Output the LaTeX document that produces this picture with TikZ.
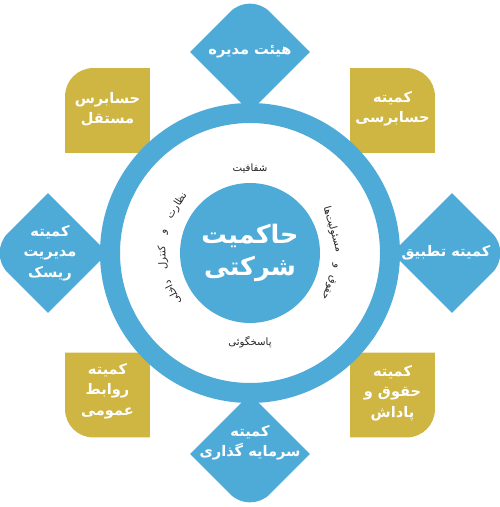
\documentclass[tikz,border=0pt]{standalone}
\usepackage{fontspec}
\newfontfamily\arabicfont[Script=Arabic]{DejaVu Sans}
\TeXXeTstate=1
\usetikzlibrary{positioning}
\definecolor{ringblue}{RGB}{78,171,216}
\definecolor{boxgold}{RGB}{207,181,66}
\newcommand{\fa}[1]{\beginR #1\endR}

\begin{document}
\begin{tikzpicture}[
    x=0.02cm, y=0.02cm,
    leaf/.pic={\fill (-42.4,-42.4) -- (42.4,-42.4) -- (42.4,14.4) arc[start angle=0, end angle=90, radius=28] -- (-42.4,42.4) -- cycle;},
    boxtext/.style={text=white, align=center, inner sep=1pt, font=\arabicfont\bfseries\fontsize{8.3}{11.6}\selectfont},
    coretext/.style={text=white, align=center, font=\arabicfont\bfseries\fontsize{14.5}{16}\selectfont},
    ringtext/.style={text=black!85, inner sep=0pt, font=\arabicfont\fontsize{5.8}{7}\selectfont}
]
\useasboundingbox (0,0) rectangle (500,507);
\coordinate (hub) at (250,254);

% diamonds and corner boxes, their inner corners go under the ring
\pic[ringblue, rotate=45] at (250,455) {leaf};
\pic[ringblue, rotate=-45] at (452,254) {leaf};
\pic[ringblue, rotate=225] at (250,53) {leaf};
\pic[ringblue, rotate=135] at (48,254) {leaf};
\pic[boxgold, rotate=90] at (107.5,396.5) {leaf};
\pic[boxgold] at (392.5,396.5) {leaf};
\pic[boxgold, rotate=-90] at (392.5,112) {leaf};
\pic[boxgold, rotate=180] at (107.5,112) {leaf};

\draw[ringblue, line width=0.4cm] (hub) circle[radius=140];
\node[circle, fill=ringblue, minimum size=2.8cm, coretext] (core) at (hub) {\fa{حاکمیت}\\[2pt]\fa{شرکتی}};

\node[boxtext] (board) at (250,455) {\fa{هیئت مدیره}};
\node[boxtext] (compliance) at (446,254) {\fa{کمیته تطبیق}};
\node[boxtext] (invest) at (250,64) {\fa{کمیته}\\\fa{سرمایه گذاری}};
\node[boxtext] (risk) at (50,254) {\fa{کمیته}\\\fa{مدیریت}\\\fa{ریسک}};
\node[boxtext] (auditor) at (107.5,398) {\fa{حسابرس}\\\fa{مستقل}};
\node[boxtext] (audit) at (392.5,398) {\fa{کمیته}\\\fa{حسابرسی}};
\node[boxtext] (relations) at (107.5,116) {\fa{کمیته}\\\fa{روابط}\\\fa{عمومی}};
\node[boxtext] (reward) at (392.5,114) {\fa{کمیته}\\\fa{حقوق و}\\\fa{پاداش}};

% principles inside the ring
\node[ringtext] (transp) at (250,339) {\fa{شفافیت}};
\node[ringtext] (account) at (250,165) {\fa{پاسخگوئی}};
\foreach \w/\a [count=\i] in {نظارت/147, و/166, کنترل/183, داخلی/207}
  \node[ringtext, rotate=\a-90] (ctrl\i) at ([shift={(\a:87)}]hub) {\fa{\w}};
\foreach \w/\a [count=\i] in {حقوق/-24, و/-9, مسئولیت‌ها/16}
  \node[ringtext, rotate=\a-90] (duty\i) at ([shift={(\a:86)}]hub) {\fa{\w}};
\end{tikzpicture}
\end{document}
